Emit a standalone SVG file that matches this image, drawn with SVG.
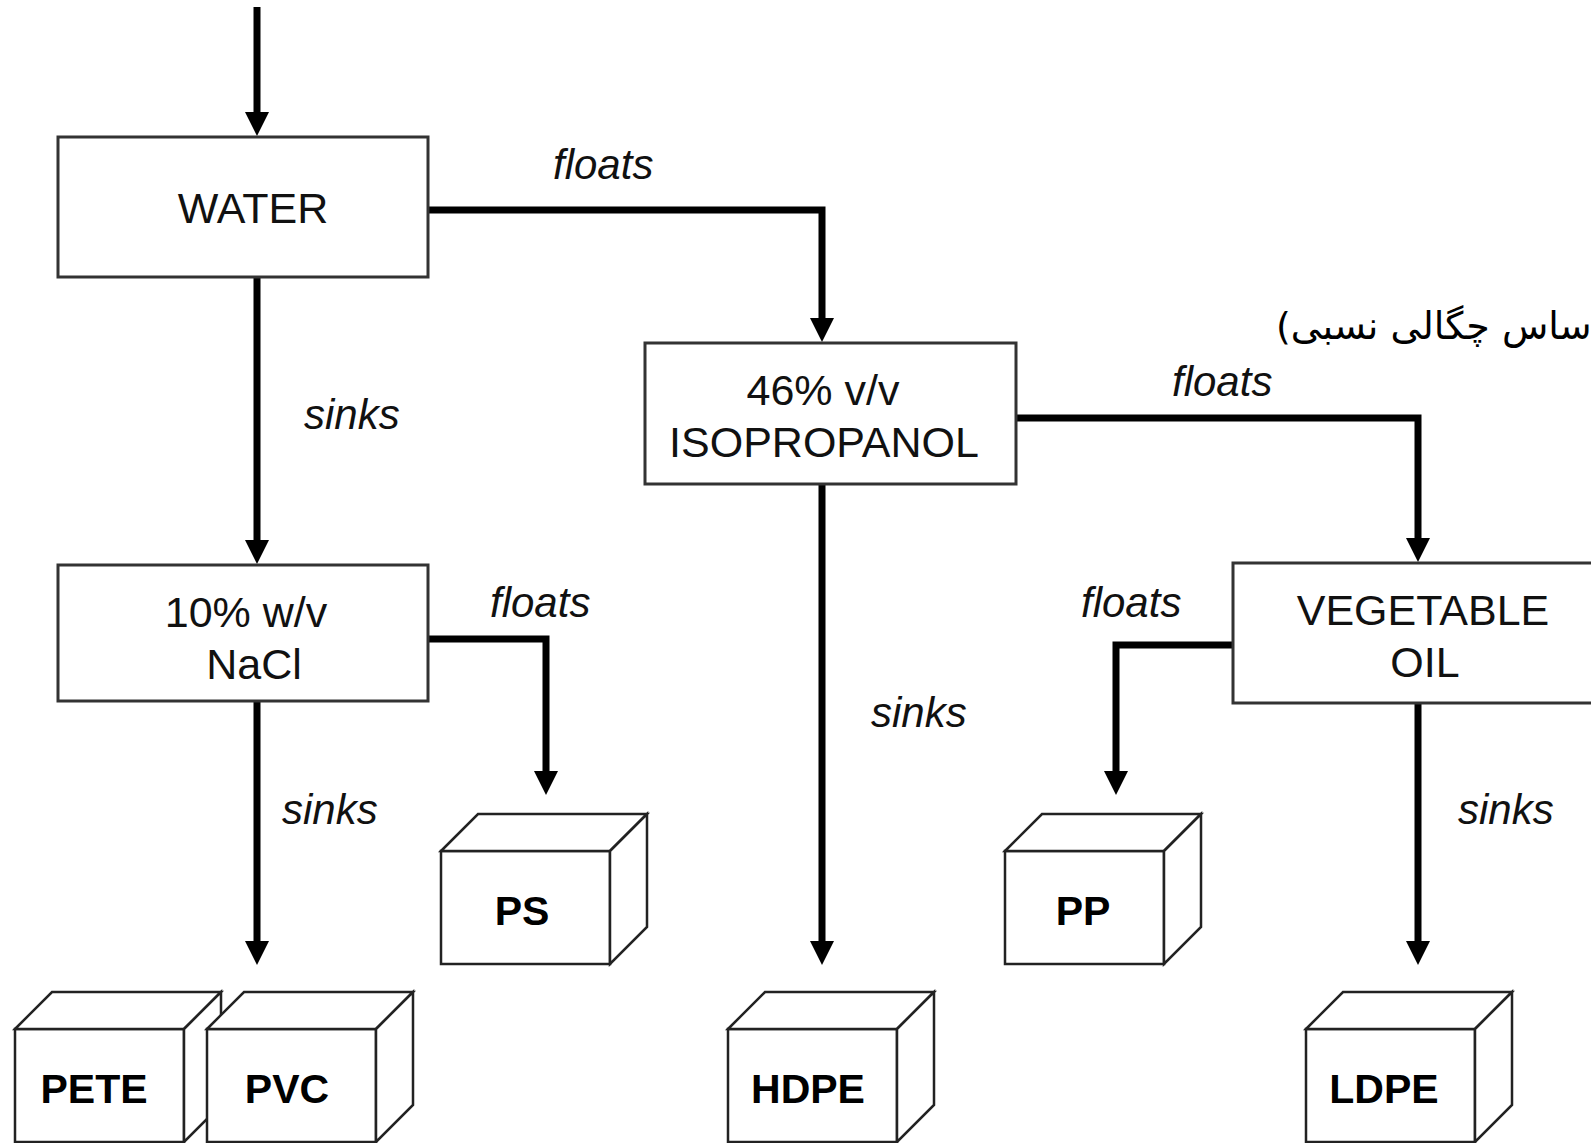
<svg xmlns="http://www.w3.org/2000/svg" width="1591" height="1143" viewBox="0 0 1591 1143">
<style>
.box{fill:#fff;stroke:#333;stroke-width:3}
.cube{fill:#fff;stroke:#222;stroke-width:2.5;stroke-linejoin:miter}
.bt{font-family:"Liberation Sans",Arial,sans-serif;font-size:43px;fill:#111;text-anchor:middle}
.ct{font-family:"Liberation Sans",Arial,sans-serif;font-size:41px;font-weight:bold;fill:#000;text-anchor:middle}
.lbl{font-family:"Liberation Sans",Arial,sans-serif;font-size:42px;font-style:italic;fill:#111}
.con{fill:none;stroke:#000;stroke-width:7;stroke-linejoin:miter}
.fa{font-family:"DejaVu Sans",sans-serif;font-size:38px;fill:#000}
</style>
<defs>
<marker id="ah" markerUnits="userSpaceOnUse" markerWidth="26" markerHeight="26" viewBox="0 -13 26 26" refX="1" refY="0" orient="auto">
<path d="M0,-12 L24,0 L0,12 Z" fill="#000"/>
</marker>
<g id="cubeShape">
<rect class="cube" x="0" y="0" width="169" height="113"/>
<path class="cube" d="M0,0 L37,-37 L206,-37 L169,0 Z"/>
<path class="cube" d="M169,0 L206,-37 L206,76 L169,113 Z"/>
</g>
<g id="cubeShapeN">
<rect class="cube" x="0" y="0" width="159" height="113"/>
<path class="cube" d="M0,0 L37,-37 L196,-37 L159,0 Z"/>
<path class="cube" d="M159,0 L196,-37 L196,76 L159,113 Z"/>
</g>
</defs>
<rect width="1591" height="1143" fill="#fff"/>

<text class="fa" x="1276" y="339" text-anchor="end" direction="rtl">ساس چگالی نسبی)</text>

<g id="connectors">
<path class="con" d="M257,7 V113" marker-end="url(#ah)"/>
<path class="con" d="M428,210 H822 V319" marker-end="url(#ah)"/>
<path class="con" d="M257,277 V541" marker-end="url(#ah)"/>
<path class="con" d="M1016,418 H1418 V539" marker-end="url(#ah)"/>
<path class="con" d="M822,484 V942" marker-end="url(#ah)"/>
<path class="con" d="M257,701 V942" marker-end="url(#ah)"/>
<path class="con" d="M428,639 H546 V772" marker-end="url(#ah)"/>
<path class="con" d="M1233,645 H1116 V772" marker-end="url(#ah)"/>
<path class="con" d="M1418,703 V942" marker-end="url(#ah)"/>
<text class="lbl" x="553" y="179">floats</text>
<text class="lbl" x="304" y="429">sinks</text>
<text class="lbl" x="1172" y="396">floats</text>
<text class="lbl" x="490" y="617">floats</text>
<text class="lbl" x="1081" y="617">floats</text>
<text class="lbl" x="871" y="727">sinks</text>
<text class="lbl" x="282" y="824">sinks</text>
<text class="lbl" x="1458" y="824">sinks</text>
</g>

<g id="water">
<rect class="box" x="58" y="137" width="370" height="140"/>
<text class="bt" x="253" y="223">WATER</text>
</g>
<g id="isopropanol">
<rect class="box" x="645" y="343" width="371" height="141"/>
<text class="bt" x="823" y="405">46% v/v</text>
<text class="bt" x="824" y="457">ISOPROPANOL</text>
</g>
<g id="nacl">
<rect class="box" x="58" y="565" width="370" height="136"/>
<text class="bt" x="246" y="627">10% w/v</text>
<text class="bt" x="254" y="679">NaCl</text>
</g>
<g id="vegoil">
<rect class="box" x="1233" y="563" width="370" height="140"/>
<text class="bt" x="1423" y="625">VEGETABLE</text>
<text class="bt" x="1425" y="677">OIL</text>
</g>

<g id="ps">
<use href="#cubeShape" x="441" y="851"/>
<text class="ct" x="522" y="925">PS</text>
</g>
<g id="pp">
<use href="#cubeShapeN" x="1005" y="851"/>
<text class="ct" x="1083" y="925">PP</text>
</g>
<g id="pete">
<use href="#cubeShape" x="15" y="1029"/>
<text class="ct" x="94" y="1103">PETE</text>
</g>
<g id="pvc">
<use href="#cubeShape" x="207" y="1029"/>
<text class="ct" x="287" y="1103">PVC</text>
</g>
<g id="hdpe">
<use href="#cubeShape" x="728" y="1029"/>
<text class="ct" x="808" y="1103">HDPE</text>
</g>
<g id="ldpe">
<use href="#cubeShape" x="1306" y="1029"/>
<text class="ct" x="1384" y="1103">LDPE</text>
</g>
</svg>
